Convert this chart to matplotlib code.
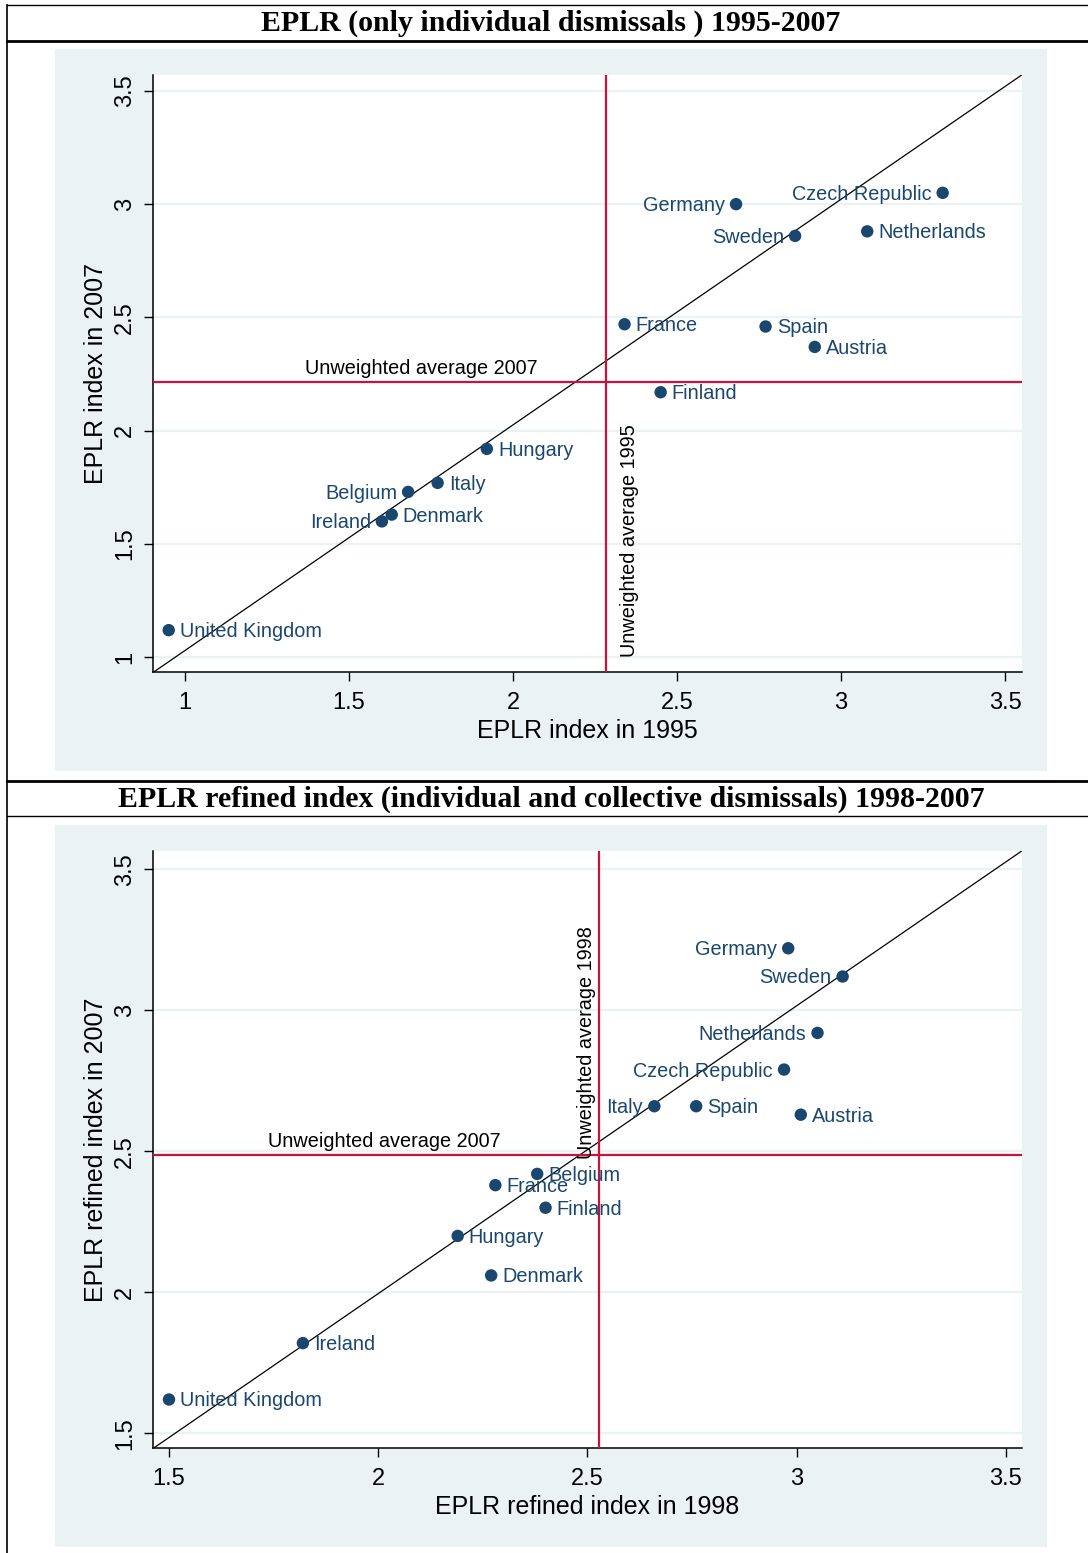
import numpy as np
import matplotlib
matplotlib.use("Agg")
import matplotlib.pyplot as plt
from matplotlib.lines import Line2D
from matplotlib.patches import Rectangle

plt.rcParams['font.family'] = ['Liberation Sans', 'DejaVu Sans']

# panel 1: EPLR individual dismissals, 1995 vs 2007
countries1 = ["United Kingdom", "Ireland", "Denmark", "Belgium", "Italy", "Hungary",
              "France", "Finland", "Germany", "Spain", "Sweden", "Austria",
              "Netherlands", "Czech Republic"]
eplr_1995 = [0.95, 1.60, 1.63, 1.68, 1.77, 1.92, 2.34, 2.45, 2.68, 2.77, 2.86, 2.92, 3.08, 3.31]
eplr_2007 = [1.12, 1.60, 1.63, 1.73, 1.77, 1.92, 2.47, 2.17, 3.00, 2.46, 2.86, 2.37, 2.88, 3.05]
left_lab1 = ["Ireland", "Belgium", "Germany", "Sweden", "Czech Republic"]

# panel 2: EPLR refined index, 1998 vs 2007
countries2 = ["United Kingdom", "Ireland", "Hungary", "Denmark", "France", "Belgium",
              "Finland", "Italy", "Spain", "Czech Republic", "Germany", "Austria",
              "Netherlands", "Sweden"]
refined_1998 = [1.50, 1.82, 2.19, 2.27, 2.28, 2.38, 2.40, 2.66, 2.76, 2.97, 2.98, 3.01, 3.05, 3.11]
refined_2007 = [1.62, 1.82, 2.20, 2.06, 2.38, 2.42, 2.30, 2.66, 2.66, 2.79, 3.22, 2.63, 2.92, 3.12]
left_lab2 = ["Italy", "Czech Republic", "Netherlands", "Sweden", "Germany"]

W, H = 1088, 1553
NAVY = '#1a476f'
RED = '#c8143c'
BG = '#eaf2f3'

fig = plt.figure(figsize=(W / 100, H / 100), dpi=100)


def px_rect(x0, y0, x1, y1):
    # pixel box (top-left origin) -> figure fraction [l, b, w, h]
    return [x0 / W, 1 - y1 / H, (x1 - x0) / W, (y1 - y0) / H]


def hline_px(y, x0, x1, lw):
    fig.add_artist(Line2D([x0 / W, x1 / W], [1 - y / H, 1 - y / H], color='black', lw=lw,
                          transform=fig.transFigure))


# frame lines and background boxes
hline_px(5, 7, W, 1.0)
hline_px(40.7, 7, W, 2.0)
hline_px(780.7, 7, W, 2.0)
hline_px(816, 7, W, 1.0)
fig.add_artist(Line2D([7 / W, 7 / W], [1 - 5 / H, 0], color='black', lw=1.2, transform=fig.transFigure))
for (y0, y1) in [(49, 771), (825, 1547)]:
    l, b, w, h = px_rect(55, y0, 1047, y1)
    fig.add_artist(Rectangle((l, b), w, h, facecolor=BG, edgecolor='none',
                             transform=fig.transFigure, zorder=-10))

fig.text(551 / W, 1 - 23 / H, "EPLR (only individual dismissals ) 1995-2007",
         family='Liberation Serif', weight='bold', fontsize=21.5, ha='center', va='center')
fig.text(551 / W, 1 - 799 / H, "EPLR refined index (individual and collective dismissals) 1998-2007",
         family='Liberation Serif', weight='bold', fontsize=21.5, ha='center', va='center')


def panel(rect, xs, ys, names, left_names, xlim, ylim, ticks_x, ticks_y, xlabel, ylabel,
          hlab_x, vtext, vlab_y, vlab_dx, vlab_ha):
    ax = fig.add_axes(rect)
    ax.set_facecolor('white')
    ax.set_xlim(*xlim)
    ax.set_ylim(*ylim)
    for s in ['top', 'right']:
        ax.spines[s].set_visible(False)
    for s in ['left', 'bottom']:
        ax.spines[s].set_linewidth(1.1)
    ax.set_xticks(ticks_x)
    ax.set_yticks(ticks_y)
    ax.set_xticklabels([f"{t:g}" for t in ticks_x])
    ax.set_yticklabels([f"{t:g}" for t in ticks_y])
    ax.tick_params(length=6.5, width=1.0, labelsize=17, pad=6)
    ax.tick_params(axis='x', pad=8)
    ax.tick_params(axis='y', labelrotation=90)
    for lbl in ax.get_yticklabels():
        lbl.set_va('center')
    for t in ticks_y:
        ax.axhline(t, color=BG, lw=1.6, zorder=0)
    ax.set_xlabel(xlabel, fontsize=18, labelpad=3)
    ax.set_ylabel(ylabel, fontsize=18, labelpad=4)

    # 45 degree line across the plot region
    ax.plot([0, 1], [0, 1], transform=ax.transAxes, color='black', lw=0.9, zorder=2)

    xavg = np.mean(xs)
    yavg = np.mean(ys)
    ax.axvline(xavg, color=RED, lw=1.6, zorder=3)
    ax.axhline(yavg, color=RED, lw=1.6, zorder=3)

    ax.scatter(xs, ys, s=80, color=NAVY, zorder=5, edgecolors='none')
    for x, y, n in zip(xs, ys, names):
        if n in left_names:
            ax.annotate(n, (x, y), xytext=(-8, -5), textcoords='offset points', ha='right',
                        va='baseline', color=NAVY, fontsize=14.3, zorder=4)
        else:
            ax.annotate(n, (x, y), xytext=(8, -5), textcoords='offset points', ha='left',
                        va='baseline', color=NAVY, fontsize=14.3, zorder=4)

    ax.annotate("Unweighted average 2007", (hlab_x, yavg), xytext=(0, 3),
                textcoords='offset points', ha='left', va='bottom', fontsize=14.3)
    ax.annotate(vtext, (xavg, vlab_y), xytext=(vlab_dx, 0), textcoords='offset points',
                rotation=90, ha=vlab_ha, va='bottom', fontsize=14.3)
    return ax


panel(px_rect(153.3, 75, 1021.7, 672.3), eplr_1995, eplr_2007, countries1, left_lab1,
      (0.903, 3.551), (0.934, 3.570), [1, 1.5, 2, 2.5, 3, 3.5], [1, 1.5, 2, 2.5, 3, 3.5],
      "EPLR index in 1995", "EPLR index in 2007", 1.366,
      "Unweighted average 1995", 1.0, 10, 'left')

panel(px_rect(153.3, 851, 1021.7, 1448.3), refined_1998, refined_2007, countries2, left_lab2,
      (1.4625, 3.538), (1.447, 3.565), [1.5, 2, 2.5, 3, 3.5], [1.5, 2, 2.5, 3, 3.5],
      "EPLR refined index in 1998", "EPLR refined index in 2007", 1.737,
      "Unweighted average 1998", 2.472, -2, 'right')

fig.savefig("out.png", dpi=100, facecolor='white')
